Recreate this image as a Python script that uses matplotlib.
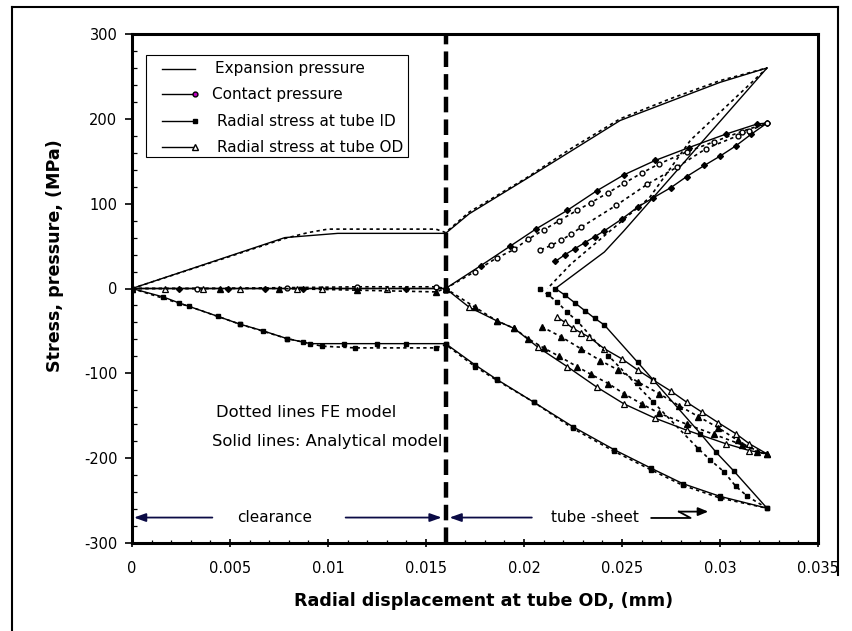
import numpy as np
import matplotlib.pyplot as plt
from matplotlib.lines import Line2D
from matplotlib.patches import Rectangle

# Expansion pressure - analytical
exp_x = [0, 0.0078, 0.0105, 0.016, 0.0172, 0.0201, 0.0224, 0.0249, 0.0275, 0.0300, 0.0324,
         0.0251, 0.0241, 0.0216]
exp_y = [0, 60, 65, 65, 88, 129, 162, 198, 221, 243, 260,
         68, 43, 0]
# Expansion pressure - FE
exp_fe_x = [0, 0.0078, 0.0090, 0.0100, 0.0155, 0.016, 0.0172, 0.0201, 0.0224, 0.0249, 0.0275,
            0.0300, 0.0324, 0.0285, 0.0264, 0.0224, 0.0212]
exp_fe_y = [0, 59, 66, 70, 70, 66, 90, 130, 165, 200, 224,
            245, 260, 175, 107, 29, 0]

# Contact pressure - analytical
ct_x = [0, 0.0024, 0.0049, 0.0068, 0.0087, 0.0115, 0.0140, 0.016, 0.0178, 0.0193, 0.0206,
        0.0222, 0.0237, 0.0251, 0.0267, 0.0284, 0.0303, 0.0319, 0.0324,
        0.0316, 0.0308, 0.0300, 0.0292, 0.0283, 0.0275, 0.0266, 0.0258, 0.0250,
        0.0241, 0.0236, 0.0231, 0.0226, 0.0221, 0.0216]
ct_y = [0, 0, 0, 0, 0, 0, 0, 0, 27, 50, 70,
        92, 115, 134, 151, 166, 182, 194, 195,
        182, 168, 156, 145, 132, 119, 107, 96, 82,
        68, 61, 54, 47, 40, 32]
# Contact pressure - FE
ct_fe_x = [0, 0.0033, 0.0079, 0.0115, 0.0155, 0.016, 0.0175, 0.0186, 0.0195, 0.0202, 0.0210,
           0.0218, 0.0227, 0.0234, 0.0243, 0.0251, 0.0260, 0.0269, 0.0283, 0.0297, 0.0311,
           0.0324, 0.0315, 0.0309, 0.0293, 0.0278, 0.0263, 0.0247, 0.0229, 0.0224, 0.0219,
           0.0214, 0.0208]
ct_fe_y = [0, 0, 1, 2, 2, 0, 20, 36, 46, 58, 69,
           80, 92, 101, 113, 124, 136, 147, 161, 173, 185,
           195, 186, 180, 165, 143, 123, 98, 72, 64, 57,
           51, 45]

# Radial stress at tube ID - analytical
id_x = [0, 0.0016, 0.0024, 0.0044, 0.0055, 0.0067, 0.0079, 0.0091, 0.0108, 0.0125, 0.0140,
        0.016, 0.0175, 0.0186, 0.0205, 0.0225, 0.0246, 0.0265, 0.0281, 0.0300, 0.0324,
        0.0307, 0.0298, 0.0290, 0.0266, 0.0258, 0.0241, 0.0236, 0.0231, 0.0226, 0.0221, 0.0216]
id_y = [0, -10, -17, -33, -42, -50, -59, -65, -65, -65, -65,
        -65, -90, -107, -134, -163, -190, -212, -230, -245, -259,
        -215, -193, -171, -108, -87, -43, -35, -26, -17, -8, 0]
# Radial stress at tube ID - FE
id_fe_x = [0, 0.0029, 0.0055, 0.0079, 0.0087, 0.0097, 0.0114, 0.0155, 0.016, 0.0175, 0.0186,
           0.0205, 0.0225, 0.0246, 0.0265, 0.0281, 0.0300, 0.0324,
           0.0314, 0.0308, 0.0302, 0.0295, 0.0289, 0.0266, 0.0243, 0.0227, 0.0222, 0.0217,
           0.0212, 0.0208]
id_fe_y = [0, -21, -42, -59, -63, -68, -70, -70, -66, -92, -108,
           -134, -165, -192, -214, -232, -247, -259,
           -245, -233, -216, -202, -189, -134, -79, -38, -28, -16,
           -7, 0]

# Radial stress at tube OD - analytical
od_x = [0, 0.0017, 0.0036, 0.0055, 0.0084, 0.0097, 0.0130, 0.016, 0.0172, 0.0186, 0.0195,
        0.0207, 0.0222, 0.0237, 0.0251, 0.0267, 0.0283, 0.0303, 0.0315, 0.0324,
        0.0315, 0.0308, 0.0299, 0.0291, 0.0283, 0.0275, 0.0266, 0.0258, 0.0250, 0.0241,
        0.0233, 0.0229, 0.0225, 0.0221, 0.0217]
od_y = [0, 0, 0, 0, 0, 0, 0, 0, -22, -38, -47,
        -69, -92, -116, -136, -153, -167, -183, -191, -195,
        -183, -171, -158, -146, -134, -121, -108, -96, -83, -71,
        -57, -52, -47, -40, -34]
# Radial stress at tube OD - FE
od_fe_x = [0, 0.0045, 0.0075, 0.0115, 0.0155, 0.016, 0.0175, 0.0186, 0.0195, 0.0202, 0.0210,
           0.0218, 0.0227, 0.0234, 0.0243, 0.0251, 0.0260, 0.0269, 0.0283, 0.0297, 0.0311,
           0.0324, 0.0319, 0.0309, 0.0299, 0.0289, 0.0279, 0.0269, 0.0258, 0.0248, 0.0239,
           0.0229, 0.0219, 0.0209]
od_fe_y = [0, 0, 0, -2, -4, 0, -22, -38, -47, -59, -70,
           -80, -92, -101, -112, -124, -136, -147, -160, -172, -184,
           -195, -193, -179, -164, -151, -138, -124, -110, -96, -85,
           -71, -57, -45]

legend_labels = ["Expansion pressure", "Contact pressure",
                 "Radial stress at tube ID", "Radial stress at tube OD"]

plt.rcParams['font.family'] = ['DejaVu Sans']
plt.rcParams['axes.unicode_minus'] = False

W, H = 853, 631
fig = plt.figure(figsize=(W / 100, H / 100), dpi=100)
ax = fig.add_axes([132 / W, 1 - 543 / H, 686 / W, 509 / H])

dot = (0, (2.0, 2.0))
lw = 1.0
ms = 3.5

# analytical (solid)
ax.plot(exp_x, exp_y, color='black', lw=lw)
ax.plot(ct_x, ct_y, color='black', lw=lw, marker='D', ms=3, mfc='black', mec='black')
ax.plot(id_x, id_y, color='black', lw=lw, marker='s', ms=2.8, mfc='black', mec='black')
ax.plot(od_x, od_y, color='black', lw=lw, marker='^', ms=ms + 0.5, mfc='white', mec='black', mew=0.9)

# FE model (dotted)
ax.plot(exp_fe_x, exp_fe_y, color='black', lw=1.2, ls=dot)
ax.plot(ct_fe_x, ct_fe_y, color='black', lw=1.2, ls=dot, marker='o', ms=ms, mfc='white', mec='black', mew=1.0)
ax.plot(id_fe_x, id_fe_y, color='black', lw=1.2, ls=dot, marker='s', ms=ms, mfc='black', mec='black')
ax.plot(od_fe_x, od_fe_y, color='black', lw=1.2, ls=dot, marker='^', ms=ms + 1, mfc='black', mec='black')

# boundary between clearance and tube-sheet contact
ax.axvline(0.016, color='black', lw=3.2, ls=(0, (3.5, 1.6)), zorder=6)

ax.set_xlim(0, 0.035)
ax.set_ylim(-300, 300)
ax.set_xticks(np.arange(0, 0.0351, 0.005))
ax.set_xticklabels(['0', '0.005', '0.01', '0.015', '0.02', '0.025', '0.03', '0.035'])
ax.set_yticks(np.arange(-300, 301, 100))
ax.set_xticks(np.arange(0, 0.0351, 0.001), minor=True)
ax.set_yticks(np.arange(-300, 301, 20), minor=True)
ax.tick_params(axis='x', which='major', direction='inout', length=6, width=1.2, labelsize=10.5, pad=10)
ax.tick_params(axis='x', which='minor', direction='in', length=2.5, width=0.9)
ax.tick_params(axis='y', which='major', direction='out', length=5, width=1.2, labelsize=10.5, pad=5.5)
ax.tick_params(axis='y', which='minor', direction='in', length=3.5, width=0.9)
for s in ax.spines.values():
    s.set_linewidth(2.2)

ax.set_xlabel("Radial displacement at tube OD, (mm)", fontsize=12.6, fontweight='bold')
ax.set_ylabel("Stress, pressure, (MPa)", fontsize=12.6, fontweight='bold')
ax.xaxis.set_label_coords(0.512, -0.096)
ax.yaxis.set_label_coords(-0.099, 0.564)

# annotations
ax.text(0.0043, -146, "Dotted lines FE model", fontsize=11.8, va='center', ha='left')
ax.text(0.0041, -180, "Solid lines: Analytical model", fontsize=11.8, va='center', ha='left', zorder=3)
ax.text(0.0073, -270, "clearance", fontsize=11, va='center', ha='center')
ax.text(0.0236, -270, "tube -sheet", fontsize=11, va='center', ha='center')

arrow_kw = dict(arrowstyle='-|>,head_length=0.7,head_width=0.25', color='#0b0b45', lw=1.3,
                shrinkA=0, shrinkB=0)
ax.annotate('', xy=(0.0001, -270), xytext=(0.0041, -270), arrowprops=arrow_kw)
ax.annotate('', xy=(0.0158, -270), xytext=(0.0109, -270), arrowprops=arrow_kw)
ax.annotate('', xy=(0.0162, -270), xytext=(0.0204, -270), arrowprops=arrow_kw)
ax.plot([0.0265, 0.0285, 0.0279], [-270.5, -270.5, -263], color='black', lw=1.3)
ax.annotate('', xy=(0.0294, -263), xytext=(0.0279, -263),
            arrowprops=dict(arrowstyle='-|>,head_length=0.6,head_width=0.25', color='black',
                            lw=1.3, shrinkA=0, shrinkB=0))

# legend box, drawn in figure pixels
def fx(px):
    return px / W


def fy(py):
    return 1 - py / H


fig.add_artist(Rectangle((fx(146), fy(157)), fx(408) - fx(146), fy(55) - fy(157),
                         transform=fig.transFigure, fill=True, facecolor='white',
                         edgecolor='black', lw=0.8, zorder=10))
legend_styles = [
    dict(),
    dict(marker='o', ms=3.5, mfc='#c000c0', mec='black'),
    dict(marker='s', ms=3, mfc='black', mec='black'),
    dict(marker='^', ms=4, mfc='white', mec='black'),
]
legend_rows = [69, 94, 121, 147]
legend_text_x = [215, 212, 217, 217]
for lab, sty, row, tx in zip(legend_labels, legend_styles, legend_rows, legend_text_x):
    fig.add_artist(Line2D([fx(162), fx(195)], [fy(row), fy(row)], color='black', lw=lw,
                          transform=fig.transFigure, markevery=[1], zorder=11, **sty))
    fig.text(fx(tx), fy(row), lab, fontsize=11, va='center', ha='left', zorder=11)

# outer frame
fig.add_artist(Line2D([fx(12), fx(12)], [0, fy(7)], color='black', lw=1.5))
fig.add_artist(Line2D([fx(12), fx(838)], [fy(7), fy(7)], color='black', lw=1.5))
fig.add_artist(Line2D([fx(838), fx(838)], [fy(575), fy(7)], color='black', lw=1.5))

fig.savefig('out.png', dpi=100)
